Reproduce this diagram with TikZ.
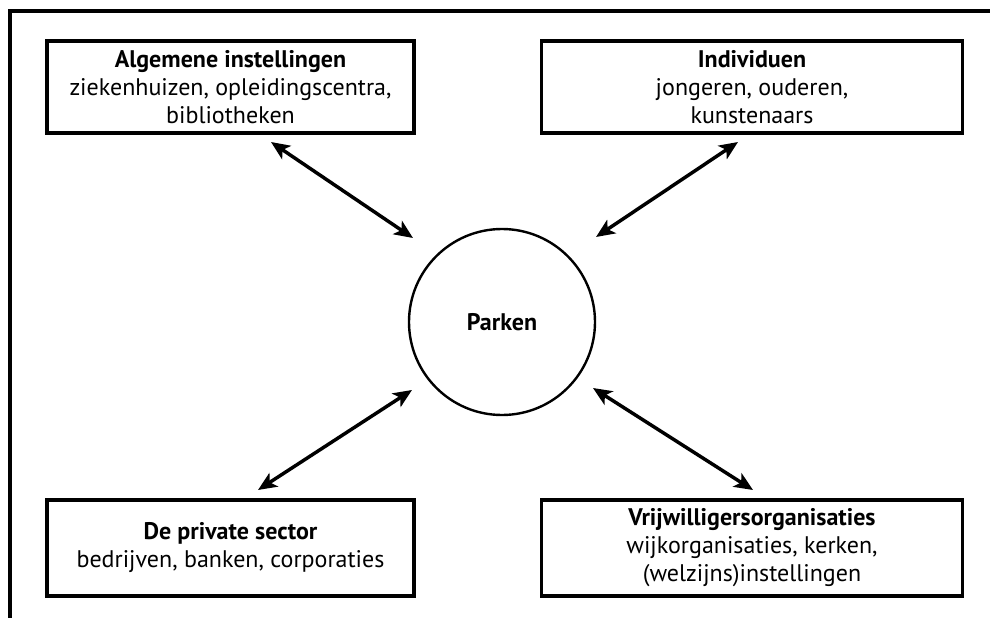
\documentclass[tikz,border=0pt]{standalone}
\usepackage{fontspec}
\setmainfont{PT Sans}
\usetikzlibrary{arrows.meta}
\begin{document}
\begin{tikzpicture}[x=0.75pt,y=-0.75pt,
  box/.style={draw, line width=2.3pt, align=center, inner sep=0pt,
    font=\fontsize{18}{21}\selectfont},
  conn/.style={line width=2.6pt, {Stealth[length=14pt,width=12pt,inset=3.5pt]}-{Stealth[length=14pt,width=12pt,inset=3.5pt]}},
  ]
\useasboundingbox (0,0) rectangle (990,618);
\draw[line width=2.3pt] (990,11) -- (10,11) -- (10,618);
\node[box, minimum width=367*0.75pt, minimum height=92*0.75pt] (alg) at (230.5,87)
  {\textbf{Algemene instellingen}\\ziekenhuizen, opleidingscentra,\\bibliotheken};
\node[box, minimum width=421*0.75pt, minimum height=92*0.75pt] (ind) at (752,87)
  {\textbf{Individuen}\\jongeren, ouderen,\\kunstenaars};
\node[box, minimum width=367*0.75pt, minimum height=96*0.75pt] (priv) at (230.5,548)
  {\textbf{De private sector}\\bedrijven, banken, corporaties};
\node[box, minimum width=421*0.75pt, minimum height=96*0.75pt] (vrij) at (752,548)
  {\textbf{Vrijwilligersorganisaties}\\wijkorganisaties, kerken,\\(welzijns)instellingen};
\node[draw, circle, line width=1.8pt, minimum size=186*0.75pt, inner sep=0pt,
  font=\fontsize{18}{21}\selectfont\bfseries] (park) at (502,322) {Parken};
\coordinate (a1s) at (271,142); \coordinate (a1e) at (413,238);
\coordinate (a2s) at (738,142); \coordinate (a2e) at (596,237);
\coordinate (a3s) at (258,490); \coordinate (a3e) at (412,390);
\coordinate (a4s) at (753,490); \coordinate (a4e) at (593,388);
\draw[conn] (a1s) -- (a1e);
\draw[conn] (a2s) -- (a2e);
\draw[conn] (a3s) -- (a3e);
\draw[conn] (a4s) -- (a4e);
\end{tikzpicture}
\end{document}
